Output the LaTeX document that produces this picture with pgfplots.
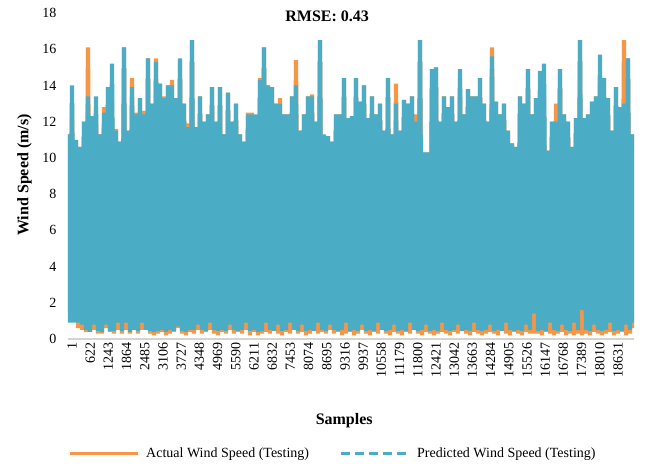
\documentclass[border=0pt]{standalone}
\usepackage{fontspec}
\setmainfont{Liberation Serif}
\usepackage{pgfplots}
\usepackage{pgfplotstable}
\pgfplotsset{compat=1.18}
\definecolor{wsorange}{HTML}{F79646}
\definecolor{wsblue}{HTML}{4BACC6}
\pgfplotstableread{
A P
11.3 11.3
1.5 0.9
13.0 14.0
1.2 0.9
11.0 11.0
0.6 0.9
10.6 10.6
0.5 0.8
12.0 12.0
0.4 0.5
16.1 13.4
0.4 0.4
12.3 12.3
0.5 0.8
12.8 13.4
0.3 0.45
11.3 11.3
0.3 0.4
12.8 12.5
0.6 0.8
13.9 13.9
0.4 0.45
13.2 15.2
0.3 0.45
11.6 11.5
0.5 0.9
10.9 10.9
0.3 0.45
16.1 16.1
0.5 0.9
11.5 11.5
0.3 0.4
14.4 13.9
0.6 0.5
12.5 12.4
0.3 0.45
13.3 13.3
0.5 0.9
12.6 12.4
0.5 0.5
15.5 15.5
0.3 0.45
13.0 13.0
0.2 0.4
15.5 15.3
0.3 0.45
14.1 14.1
0.4 0.5
13.4 13.3
0.2 0.4
14.0 14.0
0.3 0.5
14.3 14.0
0.4 0.45
13.3 13.3
0.6 0.7
15.4 15.5
0.3 0.45
13.0 13.0
0.2 0.4
11.9 11.7
0.4 0.5
16.5 16.5
0.3 0.5
11.7 11.7
0.5 0.8
13.4 13.4
0.3 0.5
12.0 12.0
0.4 0.45
12.4 12.4
0.5 0.9
13.9 13.9
0.3 0.5
12.0 12.0
0.2 0.45
13.9 13.9
0.4 0.5
11.3 11.3
0.3 0.45
13.6 13.6
0.5 0.8
12.0 12.0
0.3 0.5
13.0 13.0
0.4 0.45
11.3 11.3
0.3 0.5
10.9 10.9
0.5 0.9
12.5 12.4
0.2 0.45
12.5 12.4
0.4 0.5
12.3 12.4
0.2 0.4
14.4 14.3
0.3 0.45
16.1 16.1
0.4 0.9
14.0 14.0
0.3 0.5
13.9 13.9
0.5 0.45
13.0 13.0
0.3 0.8
13.3 13.0
0.2 0.45
12.4 12.4
0.4 0.5
12.4 12.4
0.3 0.9
13.4 13.4
0.5 0.5
15.4 14.0
0.3 0.45
11.5 11.5
0.4 0.8
12.4 12.4
0.2 0.45
13.4 13.4
0.3 0.5
13.5 13.4
0.5 0.45
12.0 12.0
0.3 0.9
16.5 16.5
0.4 0.5
11.1 11.3
0.3 0.45
11.2 11.2
0.5 0.8
10.9 10.9
0.3 0.5
12.4 12.4
0.4 0.45
12.4 12.4
0.2 0.5
14.4 14.4
0.3 0.9
12.2 12.2
0.4 0.45
12.3 12.3
0.2 0.5
14.4 14.4
0.3 0.45
13.1 13.1
0.5 0.8
14.0 14.0
0.3 0.45
12.2 12.2
0.2 0.5
13.4 13.4
0.4 0.45
12.4 12.4
0.3 0.9
13.0 13.0
0.5 0.5
11.5 11.5
0.3 0.45
14.4 14.4
0.2 0.5
11.3 11.3
0.4 0.8
14.1 13.0
0.3 0.45
11.5 11.5
0.2 0.5
13.2 13.2
0.4 0.45
13.0 13.0
0.3 0.9
13.4 13.4
0.5 0.5
12.4 12.0
0.3 0.45
16.5 16.5
0.2 0.5
10.3 10.3
0.4 0.8
10.3 10.3
0.3 0.45
14.9 14.9
0.2 0.5
15.0 15.0
0.3 0.45
12.0 12.0
0.4 0.9
13.4 13.4
0.3 0.5
12.8 12.8
0.2 0.45
13.4 13.4
0.4 0.5
12.0 12.0
0.3 0.8
14.4 14.9
0.5 0.45
12.4 12.4
0.3 0.5
13.8 13.8
0.2 0.45
13.4 13.4
0.4 0.9
13.4 13.4
0.3 0.5
14.4 14.4
0.2 0.45
13.0 13.0
0.3 0.5
12.0 12.0
0.4 0.8
16.1 15.6
0.3 0.45
13.1 13.1
0.2 0.5
12.4 12.4
0.5 0.45
13.0 13.0
0.3 0.9
11.5 11.5
0.2 0.5
10.8 10.8
0.4 0.45
10.6 10.6
0.3 0.5
13.4 13.4
0.2 0.45
13.0 13.0
0.4 0.8
14.9 14.9
0.3 0.5
12.4 12.4
0.3 1.4
13.3 13.3
0.3 0.45
13.3 14.8
0.2 0.5
13.3 15.2
0.4 0.45
10.4 10.4
0.3 0.9
12.0 12.0
0.2 0.5
13.0 12.0
0.3 0.45
14.9 14.9
0.4 0.8
12.4 12.4
0.2 0.5
12.0 12.0
0.3 0.45
10.6 10.6
0.2 0.9
12.2 12.2
0.3 0.5
16.5 16.5
0.2 1.6
12.2 12.2
0.3 0.5
12.4 12.4
0.2 0.45
13.1 13.1
0.4 0.8
13.4 13.4
0.3 0.5
14.0 15.7
0.2 0.45
14.4 14.4
0.3 0.5
13.3 13.3
0.4 0.9
11.5 11.5
0.2 0.45
13.9 13.9
0.3 0.5
12.8 12.8
0.4 0.45
16.5 13.0
0.2 0.8
15.5 15.5
0.3 0.5
11.3 11.3
0.6 0.9
}\wind

\begin{document}
\begin{tikzpicture}
\useasboundingbox (-68pt,-129pt) rectangle (581pt,339pt);
\begin{axis}[
  at={(0pt,0pt)}, anchor=south west,
  scale only axis, width=566pt, height=326pt,
  xmin=1, xmax=19313, ymin=0, ymax=18,
  ytick={0,2,...,18},
  xtick={1,622,...,18631},
  scaled x ticks=false,
  xticklabels={1,622,1243,1864,2485,3106,3727,4348,4969,5590,6211,6832,7453,8074,8695,9316,9937,10558,11179,11800,12421,13042,13663,14284,14905,15526,16147,16768,17389,18010,18631},
  /pgf/number format/assume math mode=true,
  major tick length=0pt,
  axis x line=bottom, axis y line=left,
  x axis line style={draw=black!17, line width=1.5pt, -},
  y axis line style={draw=none},
  yticklabel style={font=\fontsize{14}{14}\selectfont, xshift=-8pt},
  xticklabel style={font=\fontsize{14}{14}\selectfont, rotate=90, anchor=east, yshift=-4pt},
  title={RMSE: 0.43},
  title style={at={(axis description cs:0.458,0.973)}, anchor=center, font=\bfseries\fontsize{16}{16}\selectfont},
  xlabel={Samples},
  xlabel style={at={(axis description cs:0.488,-0.252)}, anchor=center, font=\bfseries\fontsize{16}{16}\selectfont},
  ylabel={Wind Speed (m/s)},
  ylabel style={at={(axis description cs:-0.077,0.503)}, anchor=center, rotate=0, font=\bfseries\fontsize{16}{16}\selectfont},
  legend columns=2,
  legend style={at={(axis description cs:0.468,-0.35)}, anchor=center, draw=none, fill=none,
    font=\fontsize{14}{14}\selectfont,
    /tikz/every odd column/.append style={column sep=5pt},
    /tikz/every even column/.append style={column sep=28pt}},
  legend image code/.code={\draw (0pt,0pt) -- (68pt,0pt);},
]
\addplot[wsorange, line width=4.2pt, forget plot] table[x expr=\coordindex*68.24+1, y=A]{\wind};
\addplot[wsblue, line width=4.2pt, forget plot] table[x expr=\coordindex*68.24+1, y=P]{\wind};
\addlegendimage{wsorange, line width=3pt}
\addlegendentry{Actual Wind Speed (Testing)}
\addlegendimage{wsblue, line width=3pt, dash pattern=on 9pt off 5pt}
\addlegendentry{Predicted Wind Speed (Testing)}
\end{axis}
\end{tikzpicture}
\end{document}
